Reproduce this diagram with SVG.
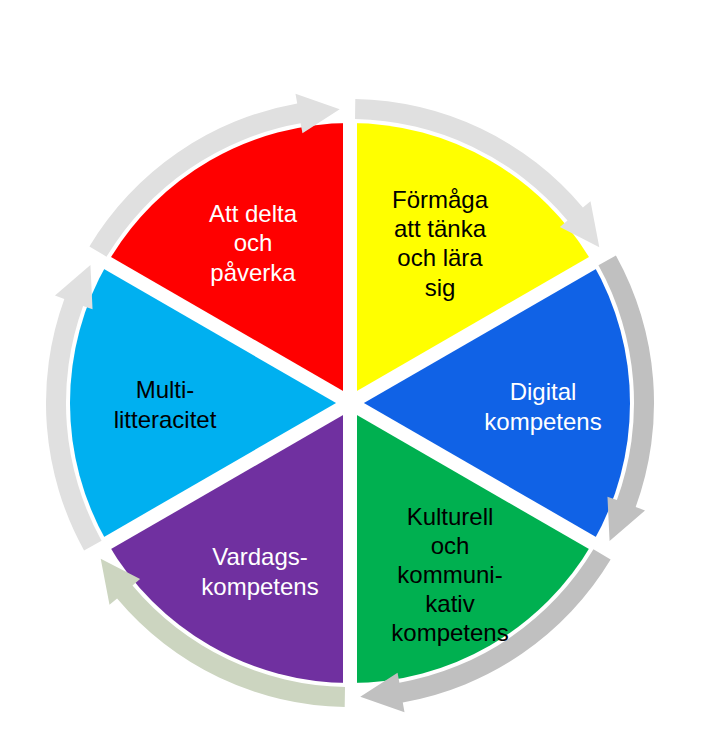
<svg xmlns="http://www.w3.org/2000/svg" width="724" height="740" viewBox="0 0 724 740">
<style>
text{font-family:"Liberation Sans",Arial,sans-serif;font-size:24px;text-anchor:middle}
.w{fill:#fff}.b{fill:#000}
.gap{stroke:#fff;stroke-width:14}
</style>
<defs>
<path id="sec" d="M0,0 L0,-280 A280,280 0 0 1 242.5,-140 Z"/>
<path id="arr" d="M5.3,-304 A304,304 0 0 1 232.9,-195.4 L240.5,-201.8 L249.3,-155.8 L209.9,-176.1 L217.5,-182.6 A284,284 0 0 0 5,-284 Z"/>
</defs>
<rect width="724" height="740" fill="#fff"/>
<g transform="translate(350,403)">
<g id="n1"><use href="#sec" fill="#ffff00"/></g>
<g id="n2"><use href="#sec" fill="#1062e6" transform="rotate(60)"/></g>
<g id="n3"><use href="#sec" fill="#00b050" transform="rotate(120)"/></g>
<g id="n4"><use href="#sec" fill="#7030a0" transform="rotate(180)"/></g>
<g id="n5"><use href="#sec" fill="#00b0f0" transform="rotate(240)"/></g>
<g id="n6"><use href="#sec" fill="#ff0000" transform="rotate(300)"/></g>
<g class="gap">
<line x1="0" y1="0" x2="0" y2="-285"/>
<line x1="0" y1="0" x2="0" y2="-285" transform="rotate(60)"/>
<line x1="0" y1="0" x2="0" y2="-285" transform="rotate(120)"/>
<line x1="0" y1="0" x2="0" y2="-285" transform="rotate(180)"/>
<line x1="0" y1="0" x2="0" y2="-285" transform="rotate(240)"/>
<line x1="0" y1="0" x2="0" y2="-285" transform="rotate(300)"/>
</g>
<g id="connectors">
<use href="#arr" fill="#e0e0e0"/>
<use href="#arr" fill="#c0c0c0" transform="rotate(60)"/>
<use href="#arr" fill="#c0c0c0" transform="rotate(120)"/>
<use href="#arr" fill="#ccd5c0" transform="rotate(180)"/>
<use href="#arr" fill="#e0e0e0" transform="rotate(240)"/>
<use href="#arr" fill="#e0e0e0" transform="rotate(300)"/>
</g>
</g>
<g class="b"><text x="440" y="208">Förmåga</text><text x="440" y="237">att tänka</text><text x="440" y="266">och lära</text><text x="440" y="296">sig</text></g>
<g class="w"><text x="543" y="400">Digital</text><text x="543" y="430">kompetens</text></g>
<g class="b"><text x="450" y="525">Kulturell</text><text x="450" y="554">och</text><text x="450" y="583">kommuni-</text><text x="450" y="612">kativ</text><text x="450" y="641">kompetens</text></g>
<g class="w"><text x="260" y="565">Vardags-</text><text x="260" y="595">kompetens</text></g>
<g class="b"><text x="165" y="398">Multi-</text><text x="165" y="428">litteracitet</text></g>
<g class="w"><text x="253" y="222">Att delta</text><text x="253" y="251">och</text><text x="253" y="281">påverka</text></g>
</svg>
